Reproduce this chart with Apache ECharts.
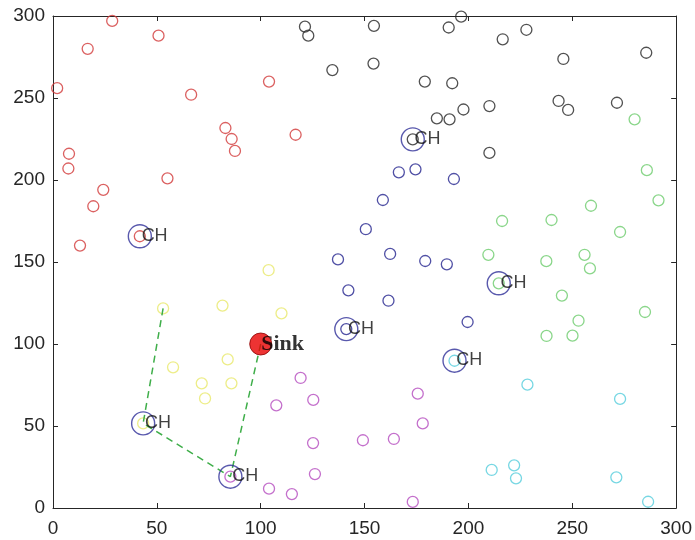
<!DOCTYPE html>
<html>
<head>
<meta charset="utf-8">
<script src="https://cdn.jsdelivr.net/npm/echarts@6/dist/echarts.min.js"></script>
<style>
html,body{margin:0;padding:0;background:#fff;}
#chart{width:695px;height:540px;}
</style>
</head>
<body>
<div id="chart"></div>
<script>
// Axis ticks
const xTicks = [0, 50, 100, 150, 200, 250, 300];
const yTicks = [0, 50, 100, 150, 200, 250, 300];

// Cluster member nodes [x, y]
const redPts = [[2,256],[28.5,297],[16.7,280],[50.8,288],[66.5,252],[7.7,216],[7.4,207],[24.2,194],[19.4,184],[55.1,201],[13,160],[83,231.7],[86,225],[87.6,217.7],[104,260],[116.8,227.6],[41.8,165.7]];
const blackPts = [[121.3,293.5],[122.9,288],[154.5,294],[190.5,293],[196.5,299.6],[134.5,267],[154.3,271],[179,260],[192.2,259],[197.6,243],[184.8,237.6],[190.9,237],[216.5,285.8],[227.9,291.6],[245.7,273.8],[285.6,277.6],[210.1,245.1],[243.4,248.2],[248,242.7],[271.5,247.1],[210.1,216.5],[173.2,224.8]];
const bluePts = [[166.5,204.7],[174.5,206.5],[193,200.6],[158.8,187.8],[150.6,170],[137.2,151.6],[162.3,154.9],[179.2,150.6],[189.6,148.6],[142.2,132.7],[161.5,126.4],[199.6,113.4],[141.2,109.1]];
const greenPts = [[280,237],[285.9,206],[291.5,187.6],[259,184.3],[273,168.3],[216.2,175],[240,175.6],[209.6,154.4],[237.5,150.5],[255.9,154.4],[258.5,146.1],[245,129.5],[253,114.2],[285,119.5],[237.6,104.9],[250.1,105.1],[214.6,137]];
const cyanPts = [[228.4,75.2],[273,66.5],[211.2,23.2],[222,26],[222.9,18.1],[271.2,18.7],[286.5,3.8],[193.3,89.8]];
const magentaPts = [[119.2,79.3],[107.5,62.6],[125.3,65.9],[125.2,39.6],[126.1,20.7],[104,11.8],[115,8.5],[149.2,41.3],[164.1,42.1],[175.6,69.7],[178,51.6],[173.2,3.7],[85.4,19.1]];
const yellowPts = [[53,121.7],[81.6,123.4],[57.8,85.8],[84.1,90.6],[71.6,76],[85.9,76],[73.2,66.8],[103.8,145],[110,118.7],[43.4,51.6]];

// Cluster heads
const chPts = [[41.8,165.7],[173.2,224.8],[141.2,109.1],[214.6,137],[193.3,89.8],[85.4,19.1],[43.4,51.6]];
const chLabel = 'CH';

// Sink
const sinkPt = [[100,100]];
const sinkLabel = 'Sink';

// Multi-hop route to sink
const routePts = [[53,121.7],[43.4,51.6],[85.4,19.1],[100,100]];

const clusters = [
  {name:'red', data:redPts, color:'#d23a3a'},
  {name:'black', data:blackPts, color:'#262626'},
  {name:'blue', data:bluePts, color:'#24248f'},
  {name:'green', data:greenPts, color:'#6dcc6d'},
  {name:'cyan', data:cyanPts, color:'#55cddc'},
  {name:'magenta', data:magentaPts, color:'#b54cbf'},
  {name:'yellow', data:yellowPts, color:'#e8e86a'}
];

const axisColor = '#262626';
const labelFont = {color:'#262626', fontSize:19, fontFamily:'Liberation Sans, Arial, sans-serif'};

const series = clusters.map(c => ({
  type:'scatter', name:c.name, data:c.data, symbol:'circle', symbolSize:11,
  itemStyle:{color:'rgba(0,0,0,0)', borderColor:c.color, borderWidth:1.3},
  z:3, silent:true
}));

series.push({
  type:'line', data:routePts, symbol:'none', z:4,
  lineStyle:{color:'#3fae4a', width:1.5, type:[7,5]}, silent:true
});

series.push({
  type:'scatter', data:chPts, symbol:'circle', symbolSize:23, z:5,
  itemStyle:{color:'rgba(0,0,0,0)', borderColor:'#2f2f99', borderWidth:1.4},
  label:{show:true, formatter:chLabel, position:[14,12], align:'left', verticalAlign:'middle',
    color:'#111', fontSize:18, fontFamily:'Liberation Sans, Arial, sans-serif'},
  silent:true
});

series.push({
  type:'scatter', data:sinkPt, symbol:'circle', symbolSize:22, z:6,
  itemStyle:{color:'#e80000', borderColor:'#8a0000', borderWidth:1},
  label:{show:true, formatter:sinkLabel, position:[12,11.5], align:'left', verticalAlign:'middle',
    color:'#000', fontSize:22, fontWeight:'bold', fontFamily:'Liberation Serif, Times New Roman, serif'},
  silent:true
});

const chart = echarts.init(document.getElementById('chart'), null, {renderer:'canvas'});
const baseAxis = {
  type:'value', min:xTicks[0], max:xTicks[xTicks.length-1], interval:xTicks[1]-xTicks[0],
  axisLine:{show:true, onZero:false, lineStyle:{color:axisColor, width:1}},
  axisTick:{show:true, inside:true, length:5, lineStyle:{color:axisColor}},
  splitLine:{show:false}
};
chart.setOption({
  animation:false,
  backgroundColor:'#fff',
  grid:{left:53, top:16, width:624, height:492, containLabel:false},
  xAxis:[
    Object.assign({}, baseAxis, {position:'bottom', axisLabel:Object.assign({margin:11}, labelFont)}),
    Object.assign({}, baseAxis, {position:'top', axisLabel:{show:false}})
  ],
  yAxis:[
    Object.assign({}, baseAxis, {min:yTicks[0], max:yTicks[yTicks.length-1], interval:yTicks[1]-yTicks[0], position:'left', axisLabel:Object.assign({margin:8}, labelFont)}),
    Object.assign({}, baseAxis, {min:yTicks[0], max:yTicks[yTicks.length-1], interval:yTicks[1]-yTicks[0], position:'right', axisLabel:{show:false}})
  ],
  series:series
});
</script>
</body>
</html>
